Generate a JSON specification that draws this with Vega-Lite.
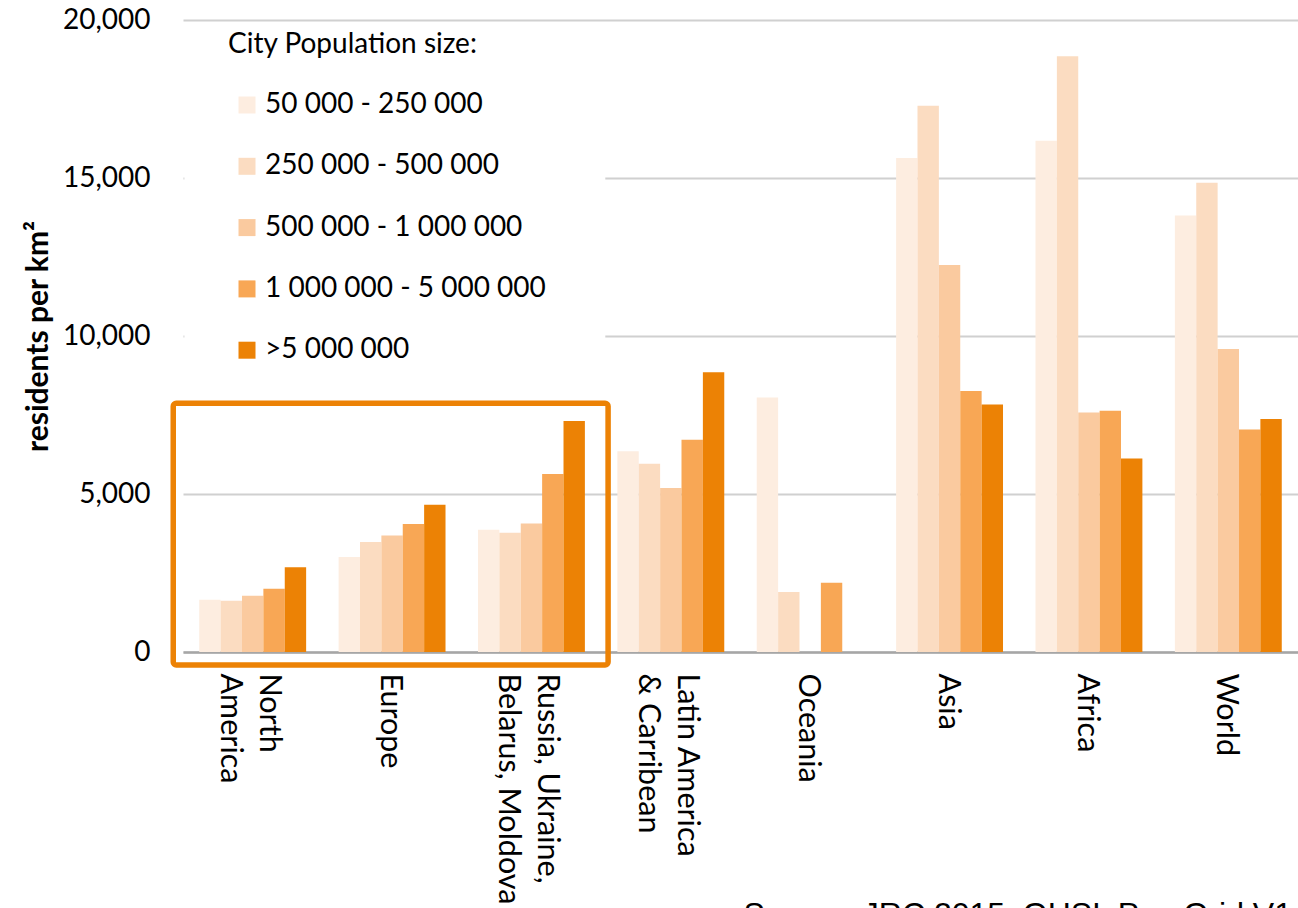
{
  "$schema": "https://vega.github.io/schema/vega-lite/v6.json",
  "autosize": {"type": "none"},
  "padding": {"left": 183, "top": 20, "right": 0, "bottom": 256},
  "width": 1115,
  "height": 632,
  "background": "white",
  "title": {
    "text": "Source: JRC 2015, GHSL Pop Grid V1",
    "orient": "bottom",
    "anchor": "end",
    "frame": "bounds",
    "font": "Liberation Sans",
    "fontSize": 32,
    "fontWeight": "normal",
    "color": "black",
    "baseline": "top",
    "offset": -4,
    "dx": -6
  },
  "datasets": {
    "density": [
      {"region": "North America", "size": "50 000 - 250 000", "value": 1655},
      {"region": "North America", "size": "250 000 - 500 000", "value": 1625},
      {"region": "North America", "size": "500 000 - 1 000 000", "value": 1780},
      {"region": "North America", "size": "1 000 000 - 5 000 000", "value": 2005},
      {"region": "North America", "size": ">5 000 000", "value": 2680},
      {"region": "Europe", "size": "50 000 - 250 000", "value": 3005},
      {"region": "Europe", "size": "250 000 - 500 000", "value": 3480},
      {"region": "Europe", "size": "500 000 - 1 000 000", "value": 3690},
      {"region": "Europe", "size": "1 000 000 - 5 000 000", "value": 4050},
      {"region": "Europe", "size": ">5 000 000", "value": 4660},
      {"region": "Russia, Ukraine, Belarus, Moldova", "size": "50 000 - 250 000", "value": 3870},
      {"region": "Russia, Ukraine, Belarus, Moldova", "size": "250 000 - 500 000", "value": 3775},
      {"region": "Russia, Ukraine, Belarus, Moldova", "size": "500 000 - 1 000 000", "value": 4070},
      {"region": "Russia, Ukraine, Belarus, Moldova", "size": "1 000 000 - 5 000 000", "value": 5635},
      {"region": "Russia, Ukraine, Belarus, Moldova", "size": ">5 000 000", "value": 7310},
      {"region": "Latin America & Carribean", "size": "50 000 - 250 000", "value": 6350},
      {"region": "Latin America & Carribean", "size": "250 000 - 500 000", "value": 5960},
      {"region": "Latin America & Carribean", "size": "500 000 - 1 000 000", "value": 5190},
      {"region": "Latin America & Carribean", "size": "1 000 000 - 5 000 000", "value": 6720},
      {"region": "Latin America & Carribean", "size": ">5 000 000", "value": 8850},
      {"region": "Oceania", "size": "50 000 - 250 000", "value": 8050},
      {"region": "Oceania", "size": "250 000 - 500 000", "value": 1900},
      {"region": "Oceania", "size": "1 000 000 - 5 000 000", "value": 2195},
      {"region": "Asia", "size": "50 000 - 250 000", "value": 15635},
      {"region": "Asia", "size": "250 000 - 500 000", "value": 17290},
      {"region": "Asia", "size": "500 000 - 1 000 000", "value": 12245},
      {"region": "Asia", "size": "1 000 000 - 5 000 000", "value": 8260},
      {"region": "Asia", "size": ">5 000 000", "value": 7835},
      {"region": "Africa", "size": "50 000 - 250 000", "value": 16180},
      {"region": "Africa", "size": "250 000 - 500 000", "value": 18850},
      {"region": "Africa", "size": "500 000 - 1 000 000", "value": 7580},
      {"region": "Africa", "size": "1 000 000 - 5 000 000", "value": 7635},
      {"region": "Africa", "size": ">5 000 000", "value": 6125},
      {"region": "World", "size": "50 000 - 250 000", "value": 13815},
      {"region": "World", "size": "250 000 - 500 000", "value": 14850},
      {"region": "World", "size": "500 000 - 1 000 000", "value": 9590},
      {"region": "World", "size": "1 000 000 - 5 000 000", "value": 7045},
      {"region": "World", "size": ">5 000 000", "value": 7375}
    ],
    "legendBack": [
      {"x0": 0.01, "x1": 3.03, "y0": 8500, "y1": 19000}
    ],
    "highlight": [
      {"x0": -0.07, "x1": 3.05, "y0": -410, "y1": 7870}
    ]
  },
  "layer": [
    {
      "data": {"name": "legendBack"},
      "mark": {"type": "rect", "fill": "white", "strokeWidth": 0},
      "encoding": {
        "x": {"field": "x0", "type": "quantitative", "scale": {"domain": [0, 8], "nice": false, "zero": false}, "axis": null},
        "x2": {"field": "x1"},
        "y": {"field": "y0", "type": "quantitative", "scale": {"domain": [0, 20000], "nice": false}},
        "y2": {"field": "y1"}
      }
    },
    {
      "data": {"name": "density"},
      "mark": {"type": "bar", "strokeWidth": 0},
      "encoding": {
        "x": {
          "field": "region",
          "type": "nominal",
          "sort": null,
          "scale": {
            "domain": ["North America", "Europe", "Russia, Ukraine, Belarus, Moldova", "Latin America & Carribean", "Oceania", "Asia", "Africa", "World"],
            "paddingInner": 0.233,
            "paddingOuter": 0.1165
          },
          "axis": {
            "title": null,
            "labelAngle": 90,
            "labelAlign": "left",
            "labelBaseline": "middle",
            "labelFont": "Lato",
            "labelFontSize": 30.5,
            "labelColor": "black",
            "labelLineHeight": 39,
            "labelPadding": 21,
            "labelLimit": 500,
            "labelOffset": {
              "condition": {"test": "indexof(['North America', 'Russia, Ukraine, Belarus, Moldova', 'Latin America & Carribean'], datum.value) >= 0", "value": 16},
              "value": -2
            },
            "ticks": false,
            "tickSize": 0,
            "grid": false,
            "domain": true,
            "domainColor": "#a6a6a6",
            "domainWidth": 2.5,
            "labelExpr": "datum.value == 'North America' ? ['North', 'America'] : datum.value == 'Russia, Ukraine, Belarus, Moldova' ? ['Russia, Ukraine,', 'Belarus, Moldova'] : datum.value == 'Latin America & Carribean' ? ['Latin America', '& Carribean'] : datum.value"
          }
        },
        "xOffset": {
          "field": "size",
          "type": "nominal",
          "sort": null,
          "scale": {
            "domain": ["50 000 - 250 000", "250 000 - 500 000", "500 000 - 1 000 000", "1 000 000 - 5 000 000", ">5 000 000"],
            "paddingInner": 0,
            "paddingOuter": 0
          }
        },
        "y": {
          "field": "value",
          "type": "quantitative",
          "scale": {"domain": [0, 20000], "nice": false},
          "axis": {
            "title": "residents per km²",
            "titleFont": "Lato",
            "titleFontSize": 30,
            "titleFontWeight": "bold",
            "titleColor": "black",
            "titlePadding": 9,
            "values": [0, 5000, 10000, 15000, 20000],
            "format": ",d",
            "labelFont": "Lato",
            "labelFontSize": 28,
            "labelColor": "black",
            "labelPadding": 33,
            "ticks": false,
            "tickSize": 0,
            "domain": false,
            "grid": true,
            "gridColor": "#d0d0d0",
            "gridWidth": 2
          }
        },
        "color": {
          "field": "size",
          "type": "nominal",
          "sort": null,
          "scale": {
            "domain": ["50 000 - 250 000", "250 000 - 500 000", "500 000 - 1 000 000", "1 000 000 - 5 000 000", ">5 000 000"],
            "range": ["#FDEDE0", "#FBDCC1", "#FACA9F", "#F8A755", "#EC8205"]
          },
          "legend": {
            "title": "City Population size:",
            "orient": "none",
            "legendX": 45,
            "legendY": 11,
            "padding": 0,
            "titleFont": "Lato",
            "titleFontSize": 28,
            "titleFontWeight": "normal",
            "titleColor": "black",
            "titlePadding": 32,
            "titleLimit": 0,
            "labelFont": "Lato",
            "labelFontSize": 28,
            "labelColor": "black",
            "labelLimit": 0,
            "labelOffset": 4,
            "symbolType": "square",
            "symbolSize": 289,
            "symbolStrokeWidth": 0,
            "symbolOpacity": 1,
            "symbolOffset": 5,
            "rowPadding": 33.3
          }
        }
      }
    },
    {
      "data": {"name": "highlight"},
      "mark": {"type": "rect", "filled": false, "stroke": "#EC8205", "strokeWidth": 5.5, "cornerRadius": 3},
      "encoding": {
        "x": {"field": "x0", "type": "quantitative", "scale": {"domain": [0, 8], "nice": false, "zero": false}, "axis": null},
        "x2": {"field": "x1"},
        "y": {"field": "y0", "type": "quantitative"},
        "y2": {"field": "y1"}
      }
    }
  ],
  "resolve": {"scale": {"x": "independent"}},
  "config": {
    "view": {"stroke": null},
    "font": "Lato"
  }
}
